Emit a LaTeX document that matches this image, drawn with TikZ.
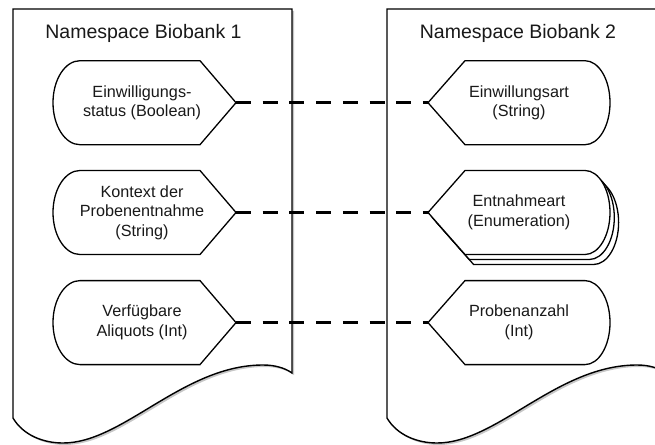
\documentclass[tikz,border=0pt]{standalone}
\usepackage{fontspec}
\setmainfont{Liberation Sans}
\usetikzlibrary{calc}
\tikzset{
  doc/.style={draw=black, line width=1.4pt, fill=white, line join=miter},
  docshadow/.style={fill=black!22, draw=none},
  shp/.style={draw=black, line width=1.3pt, fill=white, line join=miter},
  ttl/.style={anchor=base, inner sep=0pt, text=black!90,
    font=\fontsize{19.5}{23}\selectfont},
  lbl/.style={align=center, inner sep=0pt, text=black!90,
    font=\fontsize{16.2}{19.6}\selectfont},
  link/.style={draw=black, line width=3pt, dash pattern=on 15pt off 11.7pt},
  % outline of an attribute pointing right, origin at its tip
  ltag/.pic={\path[shp] (0,0) -- (-36,-42) -- (-156,-42)
      .. controls (-170.9,-42) and (-183,-23.2) .. (-183,0)
      .. controls (-183,23.2) and (-170.9,42) .. (-156,42)
      -- (-36,42) -- cycle;},
  % outline of an attribute pointing left, origin at its tip
  rtag/.pic={\path[shp] (0,0) -- (37,-42) -- (157,-42)
      .. controls (170.8,-42) and (182,-23.2) .. (182,0)
      .. controls (182,23.2) and (170.8,42) .. (157,42)
      -- (37,42) -- cycle;},
  % namespace sheet with a wavy lower edge, origin at its top left corner
  sheet/.pic={\path[pic actions] (0,409) -- (0,0) -- (279,0) -- (279,364)
      .. controls (272,359) and (262,356) .. (250,356)
      .. controls (170,356) and (110,434) .. (50,434)
      .. controls (30,434) and (10,426) .. (0,409) -- cycle;},
}
\begin{document}
\begin{tikzpicture}[x=1pt, y=-1pt]
  \useasboundingbox (0,0) rectangle (655,444);
  \clip (0,0) rectangle (655,444);

  % the two namespace sheets
  \pic[docshadow] at (15,11) {sheet};
  \pic[doc] at (13,9) {sheet};
  \pic[docshadow] at (389,11) {sheet};
  \pic[doc] at (387,9) {sheet};

  \node[ttl] (t1) at (143.5,39) {Namespace Biobank 1};
  \node[ttl] (t2) at (518,39) {Namespace Biobank 2};

  % tips of the attribute shapes
  \coordinate (a1) at (236,102.7);
  \coordinate (a2) at (236,212.5);
  \coordinate (a3) at (236,322.6);
  \coordinate (b1) at (428,102.7);
  \coordinate (b2) at (428,212.5);
  \coordinate (b3) at (428,322.6);

  % Biobank 1 attributes
  \pic at (a1) {ltag};
  \pic at (a2) {ltag};
  \pic at (a3) {ltag};

  % Biobank 2 attributes (the enumeration is stacked)
  \pic at (b1) {rtag};
  \pic at ($(b2)+(8.6,10)$) {rtag};
  \pic at ($(b2)+(4.3,5)$) {rtag};
  \pic at (b2) {rtag};
  \pic at (b3) {rtag};

  \node[lbl] (l1) at ($(a1)+(-94,0)$) {Einwilligungs-\\status (Boolean)};
  \node[lbl] (l2) at ($(a2)+(-94,0)$) {Kontext der\\Probenentnahme\\(String)};
  \node[lbl] (l3) at ($(a3)+(-94,0)$) {Verfügbare\\Aliquots (Int)};
  \node[lbl] (r1) at ($(b1)+(91,0)$) {Einwillungsart\\(String)};
  \node[lbl] (r2) at ($(b2)+(91,0)$) {Entnahmeart\\(Enumeration)};
  \node[lbl] (r3) at ($(b3)+(91,0)$) {Probenanzahl\\(Int)};

  % mappings between the namespaces
  \draw[link] (a1) -- (b1);
  \draw[link] (a2) -- (b2);
  \draw[link] (a3) -- (b3);
\end{tikzpicture}
\end{document}
